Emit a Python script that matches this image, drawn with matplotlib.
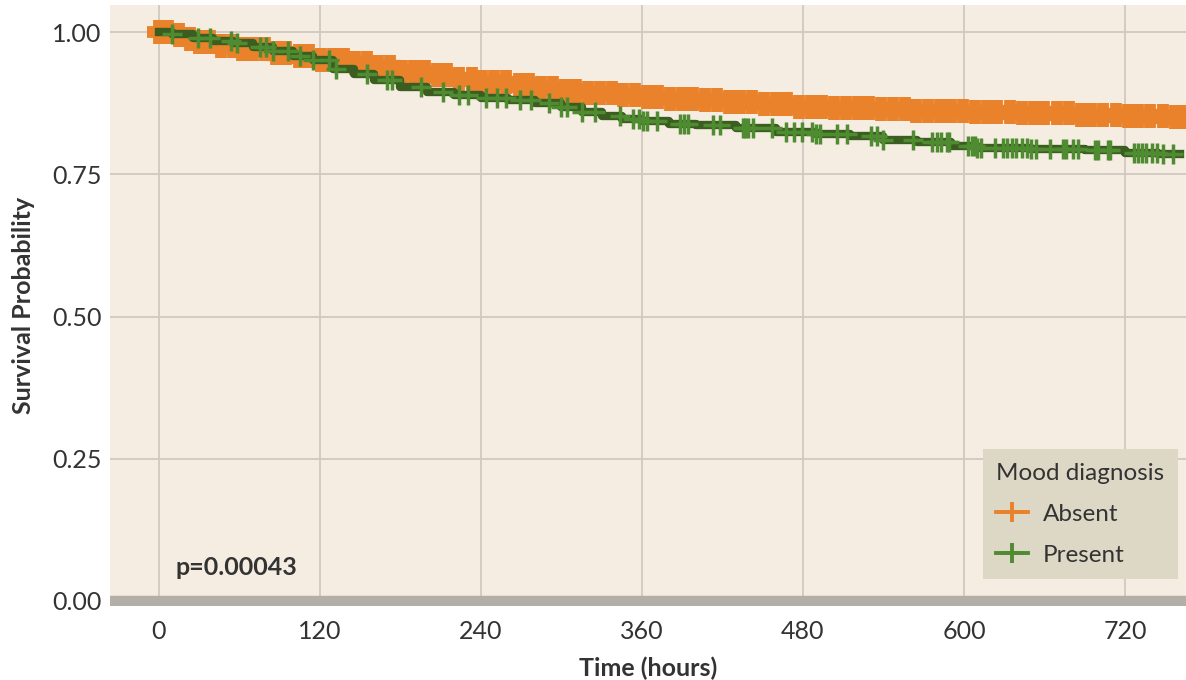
import numpy as np
import matplotlib
matplotlib.use("Agg")
import matplotlib.pyplot as plt
from matplotlib.lines import Line2D

plt.rcParams['font.family'] = ['Lato', 'DejaVu Sans']

# Kaplan-Meier steps (hours, survival)
absent_t = [0, 10, 20, 30, 45, 60, 80, 100, 120, 140, 160, 180, 200, 220, 240, 260,
            280, 300, 320, 340, 360, 380, 400, 425, 450, 475, 500, 530, 560, 600,
            640, 680, 720, 750]
absent_s = [1.0, 0.995, 0.988, 0.982, 0.976, 0.970, 0.963, 0.957, 0.951, 0.945,
            0.938, 0.930, 0.925, 0.918, 0.912, 0.906, 0.901, 0.896, 0.892, 0.889,
            0.886, 0.883, 0.880, 0.877, 0.873, 0.869, 0.866, 0.864, 0.861, 0.859,
            0.857, 0.855, 0.853, 0.851]

present_t = [0, 10, 25, 40, 55, 70, 85, 100, 115, 130, 145, 160, 180, 200, 220, 240,
             260, 280, 300, 315, 330, 345, 360, 380, 400, 430, 460, 490, 515, 540,
             565, 590, 610, 650, 690, 720, 745]
present_s = [1.0, 0.997, 0.990, 0.985, 0.980, 0.973, 0.966, 0.958, 0.950, 0.935,
             0.926, 0.916, 0.904, 0.895, 0.889, 0.884, 0.880, 0.876, 0.868, 0.860,
             0.852, 0.847, 0.843, 0.839, 0.836, 0.831, 0.825, 0.821, 0.817, 0.811,
             0.806, 0.800, 0.796, 0.795, 0.793, 0.788, 0.785]

# censoring times (hours)
absent_cens = [0, 7, 15, 23, 30, 38, 46, 55, 62, 70, 79, 87, 95, 104, 112, 121, 130,
               138, 146, 155, 163, 172, 181, 190, 198, 207, 215, 224, 233, 241, 250,
               259, 268, 276, 285, 294, 303, 311, 320, 329, 338, 346, 355, 364, 372,
               381, 390, 398, 407, 416, 425, 433, 442, 451, 460, 468, 477, 486, 494,
               503, 512, 521, 529, 538, 547, 556, 564, 573, 582, 590, 599, 608, 617,
               625, 634, 643, 652, 660, 669, 678, 687, 695, 704, 713, 722, 730, 739,
               748, 757, 765]
present_cens = [10, 29, 38, 54, 58, 75, 80, 85, 96, 105, 115, 127, 132, 155, 170, 174,
                195, 212, 224, 230, 244, 252, 259, 269, 277, 291, 300, 304, 315, 325,
                344, 353, 358, 361, 364, 371, 388, 391, 394, 413, 418, 435, 437, 439,
                443, 457, 467, 473, 479, 487, 490, 493, 505, 513, 531, 535, 540, 562,
                576, 580, 583, 587, 589, 603, 606, 608, 610, 613, 623, 629, 632, 636,
                639, 643, 647, 650, 654, 664, 674, 676, 681, 685, 698, 700, 707, 709,
                727, 730, 733, 736, 740, 744, 748, 756]

x_ticks = [0, 120, 240, 360, 480, 600, 720]
y_ticks = [0.0, 0.25, 0.50, 0.75, 1.00]
y_labels = ['0.00', '0.25', '0.50', '0.75', '1.00']

orange = '#e9822a'
green_line = '#3b5d20'
green_mark = '#4f8b30'
panel = '#f5ede1'
txt = '#333333'
fs = 18


def surv_at(times, surv, t):
    idx = np.searchsorted(times, t, side='right') - 1
    return np.asarray(surv)[idx]


fig = plt.figure(figsize=(11.86, 6.80), dpi=100)
ax = fig.add_axes([110/1186, 74/680, 1 - 110/1186, 601/680])
ax.set_facecolor(panel)

ax.set_xlim(-36.5, 765.5)
ax.set_ylim(-5/569, 1 + 27/569)

ax.grid(True, color='#d0c9c1', lw=1.3)
ax.set_axisbelow(True)
ax.axhline(0, color='#b4aea8', lw=7.5, zorder=1.5)

# Absent
at = list(absent_t) + [780]
as_ = list(absent_s) + [absent_s[-1]]
ax.step(at, as_, where='post', color=orange, lw=11, zorder=3, solid_capstyle='butt')
ax.plot(absent_cens, surv_at(absent_t, absent_s, absent_cens), ls='none',
        marker='+', ms=17, mew=8.5, color=orange, zorder=3)

# Present
pt = list(present_t) + [761]
ps = list(present_s) + [present_s[-1]]
ax.step(pt, ps, where='post', color=green_line, lw=6, zorder=4)
ax.plot(present_cens, surv_at(present_t, present_s, present_cens), ls='none',
        marker='+', ms=15, mew=2.5, color=green_mark, zorder=5)

for s in ax.spines.values():
    s.set_visible(False)

ax.set_xticks(x_ticks)
ax.set_yticks(y_ticks)
ax.set_yticklabels(y_labels)
ax.tick_params(length=0, labelsize=fs, colors=txt)
ax.tick_params(axis='x', pad=10)
ax.tick_params(axis='y', pad=6)

ax.set_xlabel('Time (hours)', fontsize=fs, fontweight='bold', color=txt, labelpad=10)
ax.set_ylabel('Survival Probability', fontsize=fs, fontweight='bold', color=txt, labelpad=12)

ax.text(12, 0.058, 'p=0.00043', fontsize=fs, fontweight='bold', color=txt,
        va='center', ha='left')

handles = [Line2D([], [], color=orange, lw=2.8, marker='+', ms=14, mew=2.8),
           Line2D([], [], color=green_mark, lw=2.8, marker='+', ms=14, mew=2.8)]
leg = ax.legend(handles, ['Absent', 'Present'], title='Mood diagnosis',
                loc='lower left', bbox_to_anchor=(983/1186, 101/680),
                bbox_transform=fig.transFigure, borderaxespad=0,
                fontsize=17.5, title_fontsize=17.5, frameon=True, fancybox=False,
                handlelength=1.3, handletextpad=0.6, labelspacing=0.82,
                borderpad=0.55, alignment='left')
leg.get_frame().set_facecolor('#ddd8c6')
leg.get_frame().set_edgecolor('none')
leg.get_frame().set_alpha(1)
for t in leg.get_texts():
    t.set_color(txt)
leg.get_title().set_color(txt)

fig.savefig('out.png', dpi=100, facecolor='white')
